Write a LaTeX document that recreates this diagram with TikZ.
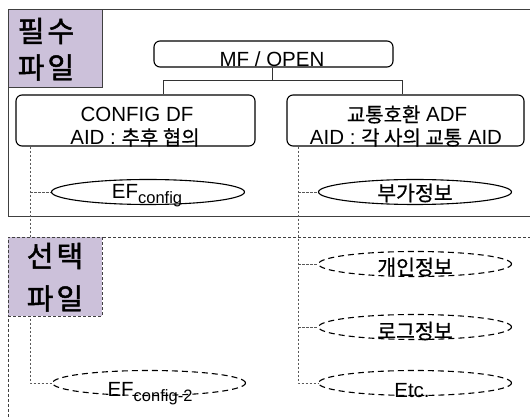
\documentclass[tikz,border=0pt]{standalone}
\usepackage{fontspec}
\setmainfont{Liberation Sans}
\newfontfamily\kr[FakeBold=0.6]{Noto Sans CJK KR}
\newfontfamily\krb[FakeBold=1.6]{Noto Sans CJK KR}
\usetikzlibrary{shapes.geometric}
\definecolor{lav}{HTML}{CCC1DA}
\begin{document}
\begin{tikzpicture}[x=1pt,y=-1pt,
  frame/.style={draw=black!75, line width=0.9pt},
  dframe/.style={draw=black!75, line width=0.8pt, dash pattern=on 3pt off 2pt},
  rbox/.style={draw=black, line width=1.1pt, rounded corners=6pt, rectangle, inner sep=0pt},
  efs/.style={ellipse, draw=black, line width=1.1pt, inner sep=0pt, minimum width=193pt, minimum height=25pt},
  efd/.style={efs, dash pattern=on 6pt off 4pt},
  conn/.style={draw=black!80, line width=0.9pt},
  dconn/.style={draw=black!65, line width=0.8pt, dash pattern=on 2.5pt off 1.5pt},
  lat/.style={font=\fontsize{20.5}{20.5}\selectfont, inner sep=0pt, anchor=base},
  krt/.style={font=\kr\fontsize{20.5}{20.5}\selectfont, inner sep=0pt},
  big/.style={font=\krb\fontsize{29}{29}\selectfont, inner sep=0pt},
  tag/.style={rectangle, fill=lav, inner sep=0pt, minimum width=94pt, minimum height=78pt},
]
\newcommand{\kt}[1]{{\kr\fontsize{20}{20}\selectfont #1}}
\useasboundingbox (0,0) rectangle (530,419);
% frames
\draw[frame] (531,9) -- (8,9) -- (8,216) -- (531,216);
\draw[dframe] (531,237) -- (8,237) -- (8,420);
% boxes
\node[rbox, minimum width=239pt, minimum height=26pt] (mf) at (273.5,54) {};
\node[lat] (mft) at (272,67) {MF / OPEN};
\node[rbox, minimum width=239pt, minimum height=51pt] (config) at (135.5,120.5) {};
\node[lat] (cfg1) at (137,122) {CONFIG DF};
\node[lat] (cfg2) at (135,145) {AID : \kt{추후 협의}};
\node[rbox, minimum width=237pt, minimum height=51pt] (adf) at (405.5,120.5) {};
\node[lat] (adf1) at (407,122) {\kt{교통호환} ADF};
\node[lat] (adf2) at (406,145) {AID : \kt{각 사의 교통} AID};
% ellipses
\node[efs] (ef1) at (148,192) {};
\node[lat] (ef1t) at (147,199) {EF{\fontsize{16.5}{16.5}\selectfont\raisebox{-5pt}{config}}};
\node[efs] (info) at (415,192) {};
\node[krt] (infot) at (415,193) {부가정보};
\node[efd] (pers) at (415,264) {};
\node[krt] (perst) at (415,267) {개인정보};
\node[efd] (log) at (415,327) {};
\node[krt] (logt) at (415,331) {로그정보};
\node[efd] (etc) at (415,383) {};
\node[lat] (etct) at (412,397) {Etc.};
\node[efd] (ef2) at (149,383) {};
\node[lat] (ef2t) at (150,396) {EF{\fontsize{16.5}{16.5}\selectfont\raisebox{-5pt}{config-2}}};
% connectors
\draw[conn] (mf.south -| 272,0) -- (272,80);
\draw[conn] (config.north -| 163,0) -- (163,80) -- (402,80) -- (adf.north -| 402,0);
\draw[dconn] (config.south -| 30,0) |- (ef2.west);
\draw[dconn] (ef1.west -| 30,0) -- (ef1.west);
\draw[dconn] (adf.south -| 298,0) |- (etc.west);
\draw[dconn] (info.west -| 298,0) -- (info.west);
\draw[dconn] (pers.west -| 298,0) -- (pers.west);
\draw[dconn] (log.west -| 298,0) -- (log.west);
% tags
\node[tag, draw=black!75, line width=0.9pt] (req) at (55,48) {};
\node[big] (req1) at (46,31) {필\hspace{3pt}수};
\node[big] (req2) at (46,67.5) {파\hspace{3pt}일};
\node[tag, draw=black!75, line width=0.8pt, dash pattern=on 3pt off 2pt, minimum height=79pt] (opt) at (55,276.5) {};
\node[big] (opt1) at (55,256) {선\hspace{3pt}택};
\node[big] (opt2) at (55,298.5) {파\hspace{3pt}일};
\end{tikzpicture}
\end{document}
